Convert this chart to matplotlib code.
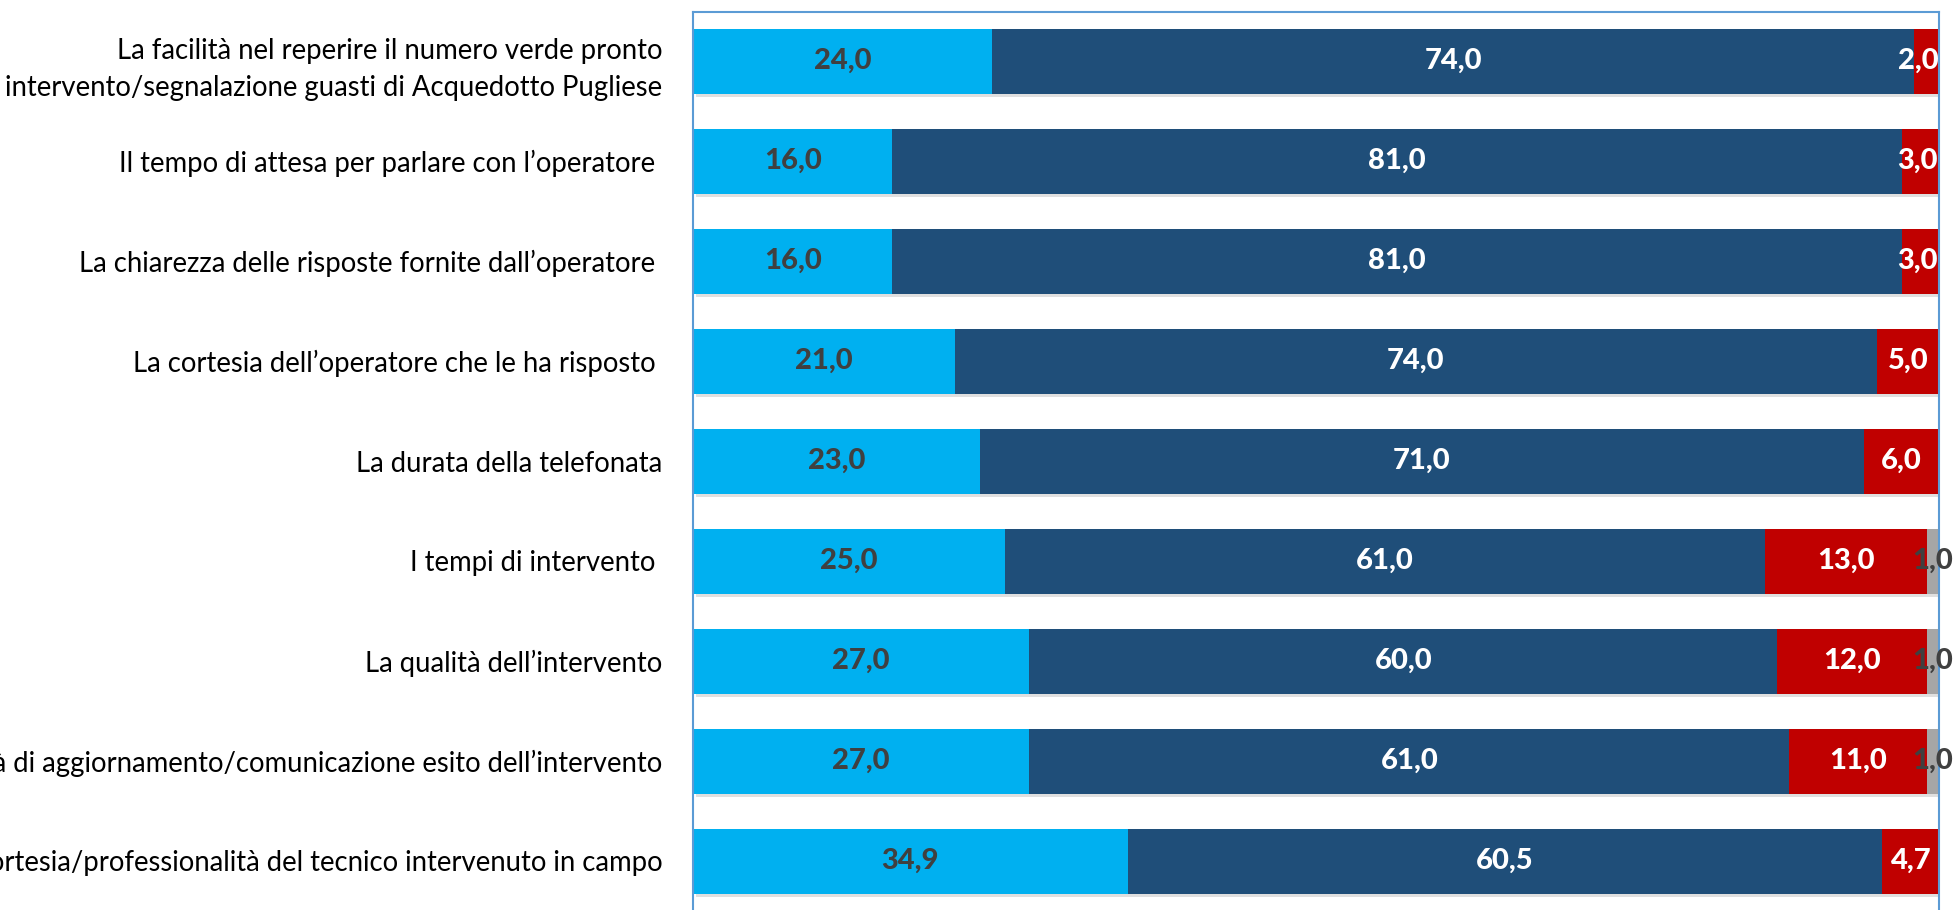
import matplotlib
matplotlib.use('Agg')
import matplotlib.pyplot as plt
import matplotlib.patheffects as pe

plt.rcParams['font.family'] = ['Lato', 'DejaVu Sans']

categories = [
    'La facilità nel reperire il numero verde pronto\nintervento/segnalazione guasti di Acquedotto Pugliese',
    'Il tempo di attesa per parlare con l\u2019operatore ',
    'La chiarezza delle risposte fornite dall\u2019operatore ',
    'La cortesia dell\u2019operatore che le ha risposto ',
    'La durata della telefonata',
    'I tempi di intervento ',
    'La qualità dell\u2019intervento',
    'La tempestività di aggiornamento/comunicazione esito dell\u2019intervento',
    'La cortesia/professionalità del tecnico intervenuto in campo',
]
s1 = [24.0, 16.0, 16.0, 21.0, 23.0, 25.0, 27.0, 27.0, 34.9]
s2 = [74.0, 81.0, 81.0, 74.0, 71.0, 61.0, 60.0, 61.0, 60.5]
s3 = [2.0, 3.0, 3.0, 5.0, 6.0, 13.0, 12.0, 11.0, 4.7]
s4 = [0.0, 0.0, 0.0, 0.0, 0.0, 1.0, 1.0, 1.0, 0.0]

series = [s1, s2, s3, s4]
colors = ['#00B0F0', '#1F4E79', '#C00000', '#A6A6A6']
text_colors = ['#404040', 'white', 'white', '#404040']

fig = plt.figure(figsize=(19.57, 9.10), dpi=100)
ax = fig.add_axes([693 / 1957, 0.0, (1939 - 693) / 1957, 1 - 12 / 910])

y = list(range(len(categories)))
left = [0.0] * len(categories)
shadow = [pe.SimplePatchShadow(offset=(2, -2.5), alpha=0.25, shadow_rgbFace='#808080'), pe.Normal()]
for k, (vals, col, tcol) in enumerate(zip(series, colors, text_colors)):
    bars = ax.barh(y, vals, left=left, height=0.65, color=col, edgecolor='none')
    for b in bars:
        b.set_path_effects(shadow)
    for yi, v, l in zip(y, vals, left):
        if v > 0:
            x = l + v / 2
            if k == 2:
                # red labels kept inside the plot area
                x = min(x, 98.3)
            ax.text(x, yi, f'{v:.1f}'.replace('.', ','), ha='center', va='center',
                    color=tcol, fontsize=21, fontweight='black', zorder=5)
    left = [a + b for a, b in zip(left, vals)]

ax.set_xlim(0, 100)
ax.set_ylim(8.49, -0.49)
ax.set_yticks(y)
ax.set_yticklabels(categories, fontsize=19.8, color='black', linespacing=1.55)
ax.tick_params(axis='y', length=0, pad=22)
ax.set_xticks([])
for side in ['left', 'top', 'right']:
    ax.spines[side].set_color('#5B9BD5')
    ax.spines[side].set_linewidth(1.5)
ax.spines['bottom'].set_visible(False)

fig.savefig('out.png', dpi=100)
